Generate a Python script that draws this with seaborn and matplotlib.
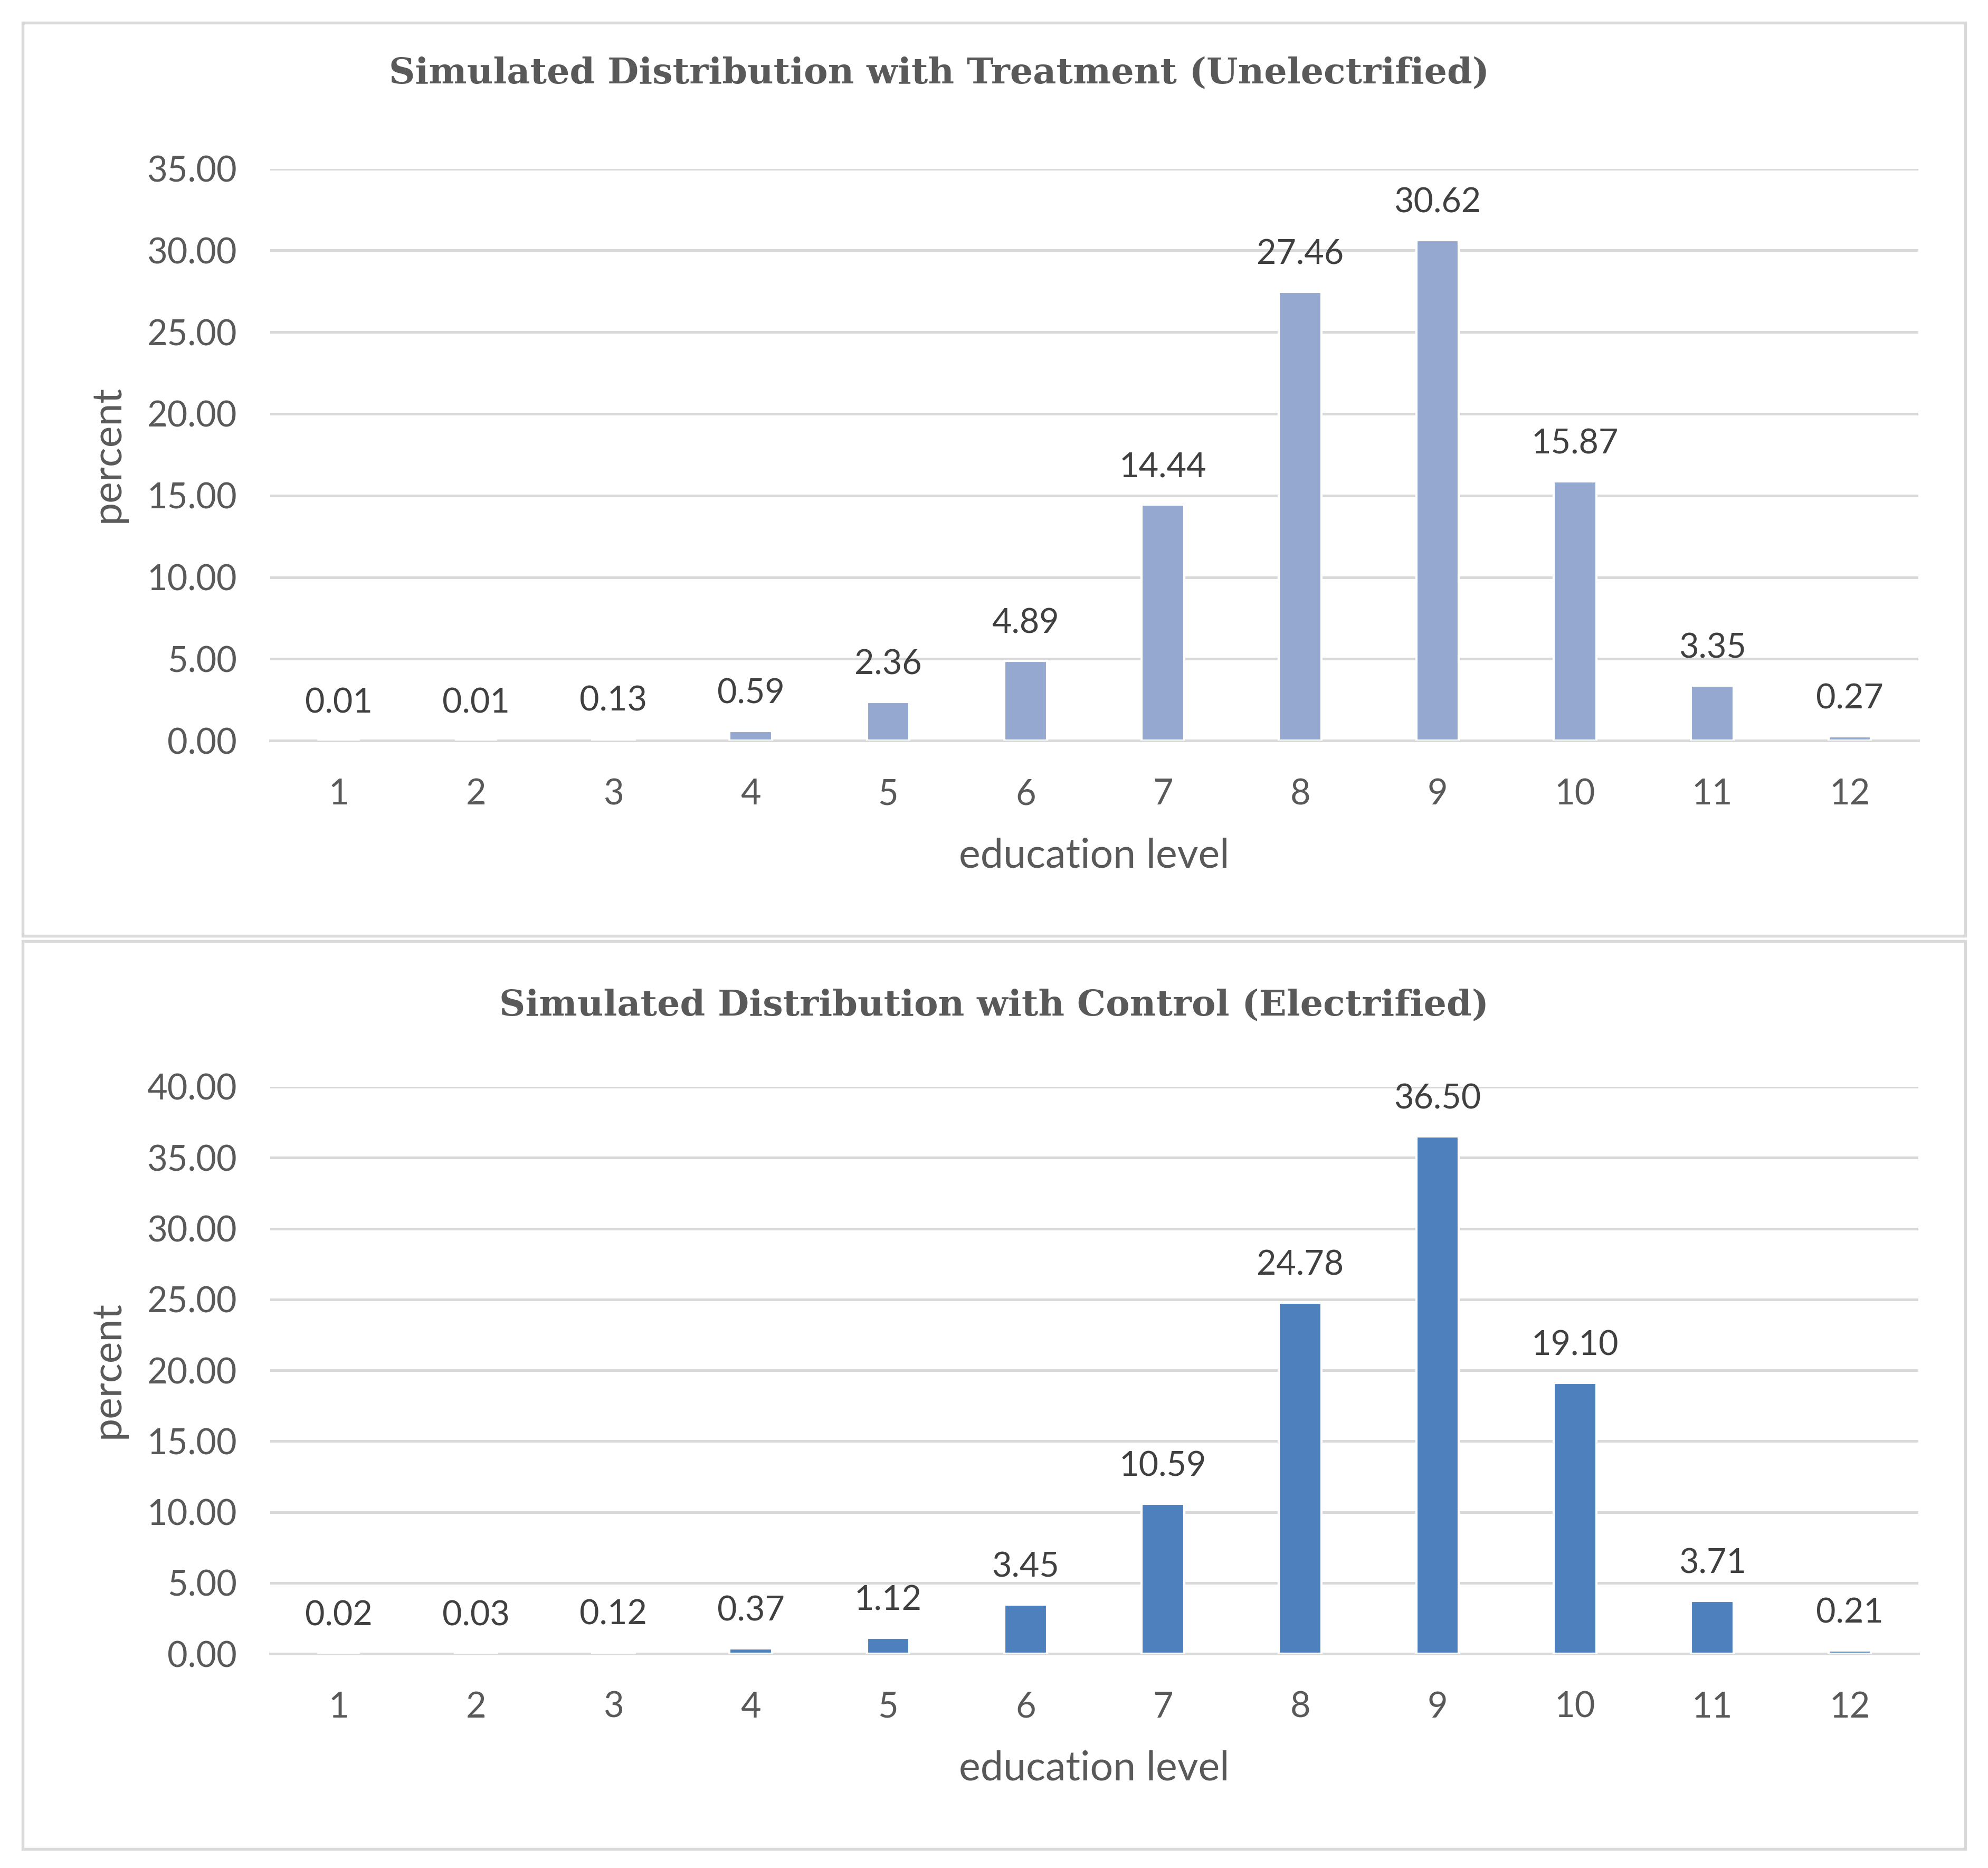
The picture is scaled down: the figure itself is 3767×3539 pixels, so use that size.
import numpy as np
import pandas as pd
import seaborn as sns
import matplotlib.pyplot as plt
from matplotlib.patches import Rectangle

levels = [str(i) for i in range(1, 13)]
treatment = [0.01, 0.01, 0.13, 0.59, 2.36, 4.89, 14.44, 27.46, 30.62, 15.87, 3.35, 0.27]
control = [0.02, 0.03, 0.12, 0.37, 1.12, 3.45, 10.59, 24.78, 36.50, 19.10, 3.71, 0.21]

title_top = "Simulated Distribution with Treatment (Unelectrified)"
title_bottom = "Simulated Distribution with Control (Electrified)"

sns.set_style("white")
plt.rcParams['font.family'] = ['Lato', 'DejaVu Sans']

W, H = 3767, 3539
fig = plt.figure(figsize=(W / 300, H / 300), dpi=300)

grid_col = "#D9D9D9"
tick_col = "#595959"
label_col = "#404040"

panels = [
    # data, colour, ymax, axes rect, panel rect, title xy, xlabel y, ylabel y
    (treatment, "#95A9D0", 35, [0.1358, 0.6035, 0.8292, 0.3062],
     [0.0115, 0.499, 0.977, 0.4888], title_top, (0.4723, 0.9606), 0.5418, 0.757),
    (control, "#4E80BD", 40, [0.1358, 0.1147, 0.8292, 0.3035],
     [0.0115, 0.0102, 0.977, 0.4861], title_bottom, (0.50, 0.4617), 0.0530, 0.2668),
]

for vals, col, ymax, rect, prect, title, txy, xly, yly in panels:
    fig.patches.append(Rectangle((prect[0], prect[1]), prect[2], prect[3],
                                 transform=fig.transFigure, fill=False,
                                 edgecolor=grid_col, linewidth=1.3))
    ax = fig.add_axes(rect)
    df = pd.DataFrame({"level": levels, "percent": vals})
    sns.barplot(data=df, x="level", y="percent", order=levels, color=col,
                saturation=1, width=0.31, ax=ax, zorder=3)
    ax.set_xlim(-0.5, 11.5)
    ax.set_ylim(0, ymax)
    ax.set_yticks(np.arange(0, ymax + 0.1, 5))
    ax.set_yticklabels([f"{v:.2f}" for v in np.arange(0, ymax + 0.1, 5)])
    ax.yaxis.grid(True, color=grid_col, linewidth=1.2, zorder=0)
    ax.set_axisbelow(True)
    for s in ["top", "right", "left"]:
        ax.spines[s].set_visible(False)
    ax.spines["bottom"].set_color(grid_col)
    ax.spines["bottom"].set_linewidth(1.2)
    ax.tick_params(axis="both", length=0, labelsize=16, labelcolor=tick_col)
    ax.tick_params(axis="y", pad=15)
    ax.tick_params(axis="x", pad=17)
    ax.set_xlabel("")
    ax.set_ylabel("")
    for c in ax.containers:
        ax.bar_label(c, labels=[f"{v:.2f}" for v in vals], padding=10,
                     fontsize=15.5, color=label_col)
    fig.text(txy[0], txy[1], title, ha="center", va="center", fontsize=16.4,
             fontweight="bold", color=tick_col, family=["DejaVu Serif"])
    fig.text(0.5504, xly, "education level", ha="center", va="center",
             fontsize=18.5, color=tick_col)
    fig.text(0.0542, yly, "percent", ha="center", va="center", rotation=90,
             fontsize=18.5, color=tick_col)

fig.savefig("out.png", dpi=300, facecolor="white")
